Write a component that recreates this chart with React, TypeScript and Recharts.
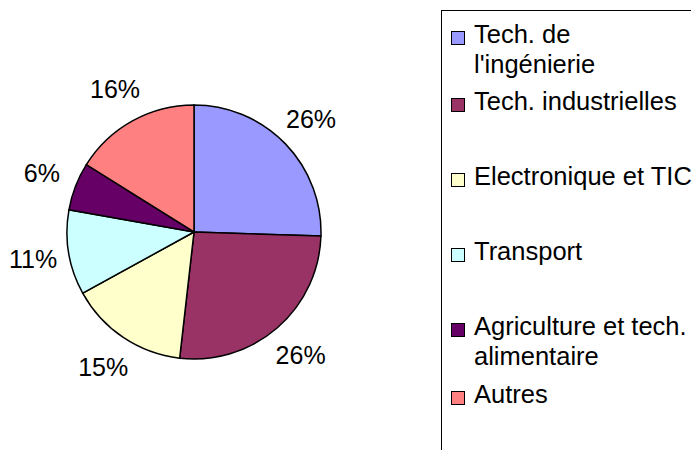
import React from 'react';
import { PieChart, Pie, Cell, Legend } from 'recharts';

// sectors, clockwise from 12 o'clock
const categories = [
  'Tech. de l\'ingénierie',
  'Tech. industrielles',
  'Electronique et TIC',
  'Transport',
  'Agriculture et tech. alimentaire',
  'Autres',
];
const shares = [25.5, 26.3, 15.2, 10.8, 6.1, 16.1];
const colors = ['#9999FF', '#993366', '#FFFFCC', '#CCFFFF', '#660066', '#FF8080'];

const data = categories.map((name, i) => ({ name, value: shares[i] }));

const FONT = 'Arial, "Liberation Sans", sans-serif';
const RADIAN = Math.PI / 180;

// centre of each legend marker (excel spaces them unevenly)
const legendTops = [37, 104, 179, 254, 329, 397];

const renderLabel = (props: any) => {
  const { cx, cy, midAngle, outerRadius, percent } = props;
  const r = outerRadius + 36;
  const x = cx + r * Math.cos(-midAngle * RADIAN);
  const y = cy + r * Math.sin(-midAngle * RADIAN);
  return (
    <text
      x={x}
      y={y}
      fill="#000"
      textAnchor="middle"
      dominantBaseline="central"
      style={{ fontFamily: FONT, fontSize: 25 }}
    >
      {Math.round(percent * 100)}%
    </text>
  );
};

const renderLegend = () => (
  <div
    style={{
      position: 'relative',
      width: 250,
      height: 440,
      borderLeft: '1px solid #000',
      borderTop: '1px solid #000',
      boxSizing: 'border-box',
      overflow: 'hidden',
      fontFamily: FONT,
      fontSize: 25.5,
      color: '#000',
    }}
  >
    {categories.map((name, i) => (
      <div key={name} style={{ position: 'absolute', left: 9, top: legendTops[i] - 10 - 19 }}>
        <span
          style={{
            position: 'absolute',
            left: 0,
            top: 11.5,
            width: 12,
            height: 12,
            background: colors[i],
            border: '1.5px solid #000',
          }}
        />
        <div style={{ marginLeft: 23, width: 222, lineHeight: '30px', whiteSpace: 'normal' }}>{name}</div>
      </div>
    ))}
  </div>
);

export default function App() {
  return (
    <div style={{ position: 'absolute', left: 0, top: 0, background: '#fff' }}>
      <PieChart width={691} height={450} margin={{ top: 0, right: 0, bottom: 0, left: 0 }}>
        <Pie
          data={data}
          dataKey="value"
          nameKey="name"
          cx={194}
          cy={232}
          outerRadius={127}
          startAngle={90}
          endAngle={-270}
          stroke="#000"
          strokeWidth={1.5}
          label={renderLabel}
          labelLine={false}
          isAnimationActive={false}
        >
          {data.map((d, i) => (
            <Cell key={d.name} fill={colors[i]} />
          ))}
        </Pie>
        <Legend
          layout="vertical"
          align="right"
          verticalAlign="top"
          content={renderLegend}
          wrapperStyle={{ left: 441, top: 10, width: 250, height: 440 }}
        />
      </PieChart>
    </div>
  );
}
